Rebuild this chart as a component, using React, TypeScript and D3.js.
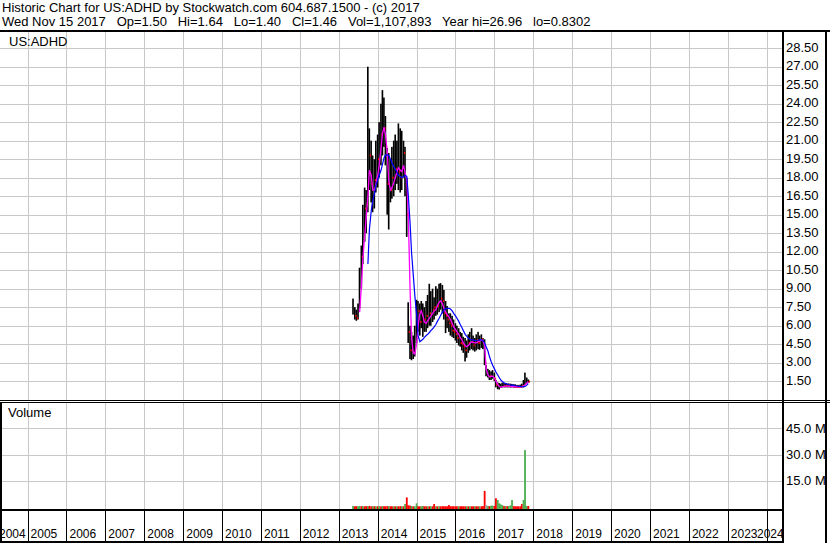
import { useEffect, useRef } from "react";
import * as d3 from "d3";

const headerLines = [
  "Historic Chart for US:ADHD by Stockwatch.com 604.687.1500 - (c) 2017",
  "Wed Nov 15 2017   Op=1.50   Hi=1.64   Lo=1.40   Cl=1.46   Vol=1,107,893   Year hi=26.96   lo=0.8302",
];
const symbol = "US:ADHD";

const dates = [
  "2013-05-15", "2013-06-01", "2013-06-15", "2013-07-01", "2013-07-15", "2013-08-01", "2013-08-15", "2013-09-01",
  "2013-09-15", "2013-10-01", "2013-10-15", "2013-11-01", "2013-11-15", "2013-12-01", "2013-12-15",
  "2014-01-01", "2014-01-15", "2014-02-01", "2014-02-15", "2014-03-01", "2014-03-15", "2014-04-01", "2014-04-15",
  "2014-05-01", "2014-05-15", "2014-06-01", "2014-06-15", "2014-07-01", "2014-07-15", "2014-08-01", "2014-08-15",
  "2014-09-01", "2014-09-15", "2014-10-01", "2014-10-15", "2014-11-01", "2014-11-15", "2014-12-01", "2014-12-15",
  "2015-01-01", "2015-01-15", "2015-02-01", "2015-02-15", "2015-03-01", "2015-03-15", "2015-04-01", "2015-04-15",
  "2015-05-01", "2015-05-15", "2015-06-01", "2015-06-15", "2015-07-01", "2015-07-15", "2015-08-01", "2015-08-15",
  "2015-09-01", "2015-09-15", "2015-10-01", "2015-10-15", "2015-11-01", "2015-11-15", "2015-12-01", "2015-12-15",
  "2016-01-01", "2016-01-15", "2016-02-01", "2016-02-15", "2016-03-01", "2016-03-15", "2016-04-01", "2016-04-15",
  "2016-05-01", "2016-05-15", "2016-06-01", "2016-06-15", "2016-07-01", "2016-07-15", "2016-08-01", "2016-08-15",
  "2016-09-01", "2016-09-15", "2016-10-01", "2016-10-15", "2016-11-01", "2016-11-15", "2016-12-01", "2016-12-15",
  "2017-01-01", "2017-01-15", "2017-02-01", "2017-02-15", "2017-03-01", "2017-03-15", "2017-04-01", "2017-04-15",
  "2017-05-01", "2017-05-15", "2017-06-01", "2017-06-15", "2017-07-01", "2017-07-15", "2017-08-01", "2017-08-15",
  "2017-09-01", "2017-09-15", "2017-10-01", "2017-10-15", "2017-11-01", "2017-11-15",
];

const highs = [
  8.2, 7.5, 7.3, 7.8, 10.7, 12.5, 15.8, 17.2, 17.0, 27.0, 22.0, 21.0, 19.8, 19.5, 21.0,
  21.5, 22.5, 24.0, 25.1, 24.5, 23.0, 20.4, 20.0, 19.5, 20.5, 21.0, 21.5, 21.0, 22.4, 22.0, 21.8,
  21.0, 20.5, 18.0, 7.9, 6.0, 5.5, 5.2, 6.0,
  8.1, 8.0, 7.8, 8.0, 7.8, 7.5, 8.0, 8.5, 9.4, 8.8, 9.0, 8.3, 9.2, 9.0, 9.4, 9.45,
  9.3, 8.9, 8.0, 7.6, 7.0, 7.0, 6.8, 6.5,
  6.2, 6.0, 5.8, 5.5, 5.4, 5.1, 5.0, 4.8, 5.3, 5.5, 5.8, 5.2, 5.0, 5.3, 5.5, 5.2,
  5.3, 5.0, 4.9, 2.8, 2.5, 2.4, 2.3, 2.4,
  2.2, 1.6, 1.4, 1.35, 1.3, 1.38, 1.35, 1.3, 1.3, 1.32, 1.3, 1.28, 1.25, 1.25, 1.2, 1.2,
  1.22, 1.3, 1.6, 2.2, 1.8, 1.64,
];

const lows = [
  6.9, 6.5, 6.4, 6.5, 7.4, 9.0, 11.0, 12.8, 13.5, 15.2, 17.0, 16.0, 15.2, 15.5, 16.8,
  17.2, 18.0, 19.0, 19.8, 20.5, 19.0, 15.0, 13.8, 16.0, 16.3, 16.5, 17.0, 17.5, 17.0, 16.8, 17.0,
  18.0, 16.5, 13.2, 4.6, 3.3, 3.2, 3.3, 3.5,
  4.6, 5.5, 5.2, 5.8, 5.1, 5.5, 5.5, 5.8, 6.0, 6.0, 6.3, 6.5, 6.8, 6.9, 7.1, 7.3,
  7.0, 6.5, 5.4, 5.8, 5.5, 5.2, 5.1, 5.0,
  4.8, 4.6, 4.4, 4.3, 4.0, 3.8, 3.1, 3.4, 3.8, 4.0, 4.1, 4.0, 3.9, 4.0, 4.1, 4.05,
  4.2, 4.1, 2.8, 1.9, 1.8, 1.6, 1.6, 1.7,
  1.5, 1.0, 0.85, 0.83, 0.95, 1.0, 1.0, 1.0, 1.0, 1.0, 0.98, 1.0, 0.98, 0.98, 0.98, 0.97,
  0.98, 0.98, 1.0, 1.2, 1.3, 1.4,
];

const closes = [
  7.2, 6.8, 6.6, 7.4, 9.8, 11.6, 14.5, 15.5, 15.8, 19.5, 19.8, 17.5, 16.5, 17.8, 19.0,
  19.5, 21.0, 21.5, 22.5, 22.0, 20.5, 17.5, 16.5, 17.0, 18.0, 18.5, 18.7, 19.0, 18.5, 18.0, 19.5,
  20.0, 17.5, 15.0, 5.5, 4.0, 3.6, 3.8, 4.8,
  6.5, 7.2, 6.3, 7.5, 6.0, 6.5, 6.8, 7.5, 7.0, 7.8, 7.3, 7.5, 8.0, 7.6, 8.5, 8.2,
  8.0, 7.0, 6.8, 6.5, 6.2, 6.0, 5.6, 5.5,
  5.3, 5.0, 4.8, 4.6, 4.5, 4.3, 4.0, 4.2, 4.6, 4.8, 4.7, 4.4, 4.5, 4.8, 4.6, 4.8,
  4.9, 4.6, 3.0, 2.2, 2.0, 1.9, 1.9, 2.0,
  1.7, 1.2, 1.0, 1.0, 1.1, 1.15, 1.1, 1.1, 1.1, 1.08, 1.05, 1.1, 1.05, 1.05, 1.05, 1.03,
  1.05, 1.1, 1.3, 1.5, 1.5, 1.46,
];

// short moving average (magenta)
const maFast: (number | null)[] = [
  null, null, null, null, 7.1, 9.2, 11.5, 13.3, 14.8, 16.5, 18.6, 18.2, 17.0, 17.0, 17.5,
  18.2, 19.0, 20.4, 21.6, 22.1, 21.5, 20.0, 17.7, 17.0, 17.2, 17.6, 18.0, 18.5, 18.8, 18.6, 18.5,
  19.0, 18.4, 17.8, 15.0, 8.9, 5.0, 3.8, 3.7,
  4.5, 6.0, 7.0, 7.2, 6.8, 6.3, 6.2, 6.4, 6.6, 6.8, 7.0, 7.2, 7.3, 7.6, 7.9, 8.0,
  7.8, 7.4, 7.1, 6.9, 6.7, 6.5, 6.2, 5.9,
  5.7, 5.5, 5.3, 5.05, 4.85, 4.6, 4.4, 4.3, 4.4, 4.55, 4.7, 4.65, 4.6, 4.6, 4.7, 4.75,
  4.85, 4.8, 4.4, 2.5, 2.0, 1.86, 1.9, 1.9,
  1.75, 1.5, 1.25, 1.08, 1.0, 1.05, 1.08, 1.1, 1.1, 1.08, 1.07, 1.07, 1.06, 1.05, 1.05, 1.04,
  1.04, 1.06, 1.12, 1.19, 1.35, 1.46,
];

// long moving average (blue)
const maSlow: (number | null)[] = [
  null, null, null, null, null, null, null, null, null, 11.0, 13.8, 15.3, 16.1, 16.7, 17.4,
  17.8, 18.2, 18.6, 19.1, 19.6, 19.85, 19.85, 19.8, 19.5, 19.2, 18.9, 18.7, 18.4, 18.2, 18.1, 18.0,
  18.1, 18.2, 18.1, 16.6, 14.3, 11.9, 10.1, 8.5,
  6.9, 5.2, 4.7, 4.8, 4.9, 5.05, 5.2, 5.3, 5.45, 5.6, 5.75, 5.9, 6.1, 6.35, 6.6, 6.85,
  7.1, 7.3, 7.38, 7.4, 7.4, 7.35, 7.2, 7.0,
  6.8, 6.6, 6.35, 6.1, 5.85, 5.6, 5.3, 5.15, 5.0, 4.9, 4.85, 4.85, 4.8, 4.8, 4.82, 4.85,
  4.85, 4.8, 4.6, 4.3, 3.95, 3.5, 3.1, 2.8,
  2.5, 2.25, 2.0, 1.8, 1.6, 1.48, 1.38, 1.32, 1.27, 1.23, 1.2, 1.18, 1.16, 1.13, 1.11, 1.09,
  1.08, 1.06, 1.05, 1.08, 1.18, 1.3,
];

// volume in millions
const volumes = [
  0.6, 0.4, 0.5, 0.4, 0.6, 0.5, 0.5, 0.4, 0.5, 0.5, 0.6, 0.4, 0.5, 0.4, 0.4,
  0.4, 0.5, 0.4, 0.5, 0.4, 0.4, 0.5, 0.5, 0.4, 0.4, 0.4, 0.4, 0.4, 0.4, 0.5, 0.4,
  0.4, 1.7, 5.5, 1.0, 0.8, 0.5, 0.4, 0.4,
  2.1, 0.4, 0.4, 0.4, 0.6, 0.4, 0.4, 0.4, 0.4, 0.4, 0.4, 1.7, 0.4, 0.4, 0.4, 0.4,
  0.5, 0.4, 0.4, 0.4, 1.1, 0.4, 0.4, 0.4,
  0.4, 0.4, 0.4, 0.4, 0.4, 0.4, 0.4, 0.4, 0.4, 0.4, 0.4, 0.4, 0.4, 0.4, 0.4, 0.4,
  0.4, 0.5, 9.2, 1.1, 0.6, 0.5, 0.8, 0.8,
  0.6, 5.0, 4.0, 2.1, 1.5, 1.1, 0.6, 0.5, 0.5, 0.6, 1.0, 4.0, 0.5, 0.4, 0.4, 0.4,
  0.4, 1.7, 4.0, 32.6, 0.6, 0.6,
];

// u = up day (green), d = down day (red), n = unchanged (gray)
const moves = [
  "u", "d", "d", "u", "u", "d", "u", "d", "d", "u", "d", "d", "u", "d", "u",
  "d", "u", "d", "u", "d", "d", "d", "u", "d", "d", "u", "d", "u", "d", "d", "u",
  "d", "u", "d", "d", "d", "u", "d", "u",
  "u", "d", "d", "u", "u", "d", "d", "u", "d", "u", "d", "d", "u", "d", "u", "d",
  "d", "d", "d", "d", "d", "d", "d", "d",
  "d", "d", "u", "d", "d", "d", "d", "u", "d", "u", "d", "d", "u", "d", "d", "u",
  "d", "d", "d", "n", "u", "d", "u", "u",
  "d", "d", "u", "u", "u", "u", "d", "u", "d", "u", "u", "u", "d", "d", "d", "d",
  "d", "d", "u", "u", "u", "d",
];

const priceTicks = [1.5, 3, 4.5, 6, 7.5, 9, 10.5, 12, 13.5, 15, 16.5, 18, 19.5, 21, 22.5, 24, 25.5, 27, 28.5];
const volumeTicks = [15, 30, 45];
const years = [
  2004, 2005, 2006, 2007, 2008, 2009, 2010, 2011, 2012, 2013, 2014,
  2015, 2016, 2017, 2018, 2019, 2020, 2021, 2022, 2023, 2024,
];

const W = 830;
const H = 543;
const FONT = "'Liberation Sans', Arial, sans-serif";

// keep runs of spaces in svg text
const keepSpaces = (s: string) => s.replace(/ (?= )/g, "\u00a0");

export default function App() {
  const ref = useRef<SVGSVGElement>(null);

  useEffect(() => {
    if (!ref.current) return;
    const svg = d3.select(ref.current);
    svg.selectAll("*").remove();

    const plotR = 782;
    const priceTop = 32;
    const priceBot = 400;
    const volTop = 403;
    const volBot = 509;

    const parse = d3.utcParse("%Y-%m-%d");
    const t = dates.map((d) => parse(d) as Date);
    const idx = d3.range(dates.length);
    const x = d3
      .scaleUtc()
      .domain([new Date(Date.UTC(2005, 0, 1)), new Date(Date.UTC(2024, 0, 1))])
      .range([27.6, 766.7]);
    const yP = d3.scaleLinear().domain([0, 28.5]).range([399.7, 48.2]);
    const yV = d3.scaleLinear().domain([0, 45]).range([507, 428.4]);
    const step = x(t[1]) - x(t[0]);

    svg.append("rect").attr("width", W).attr("height", H).attr("fill", "#fff");

    // grid
    const grid = svg
      .append("g")
      .attr("stroke", "#c8c8c8")
      .attr("stroke-width", 1)
      .attr("shape-rendering", "crispEdges");
    years.forEach((yr) => {
      const gx = Math.round(x(new Date(Date.UTC(yr, 0, 1)))) + 0.5;
      if (gx < 1 || gx > plotR) return;
      grid.append("line").attr("x1", gx).attr("x2", gx).attr("y1", priceTop).attr("y2", priceBot);
      grid.append("line").attr("x1", gx).attr("x2", gx).attr("y1", volTop).attr("y2", volBot);
    });
    priceTicks.forEach((p) => {
      const gy = Math.round(yP(p)) + 0.5;
      grid.append("line").attr("x1", 0).attr("x2", plotR).attr("y1", gy).attr("y2", gy);
    });
    volumeTicks.forEach((v) => {
      const gy = Math.round(yV(v)) + 0.5;
      grid.append("line").attr("x1", 0).attr("x2", plotR).attr("y1", gy).attr("y2", gy);
    });

    // volume bars
    const volColor: Record<string, string> = { u: "#4caf50", d: "#ff0000", n: "#a0a0a0" };
    svg
      .append("g")
      .selectAll("rect")
      .data(idx)
      .enter()
      .append("rect")
      .attr("x", (i: number) => x(t[i]) - step / 2)
      .attr("width", step)
      .attr("y", (i: number) => yV(volumes[i]))
      .attr("height", (i: number) => volBot - yV(volumes[i]))
      .attr("fill", (i: number) => volColor[moves[i]]);

    // price bars (high-low)
    svg
      .append("g")
      .selectAll("rect")
      .data(idx)
      .enter()
      .append("rect")
      .attr("x", (i: number) => x(t[i]) - step / 2)
      .attr("width", step * 0.9)
      .attr("y", (i: number) => yP(highs[i]))
      .attr("height", (i: number) => Math.max(1, yP(lows[i]) - yP(highs[i])))
      .attr("fill", "#000");

    // red close ticks on down bars
    svg
      .append("g")
      .selectAll("rect")
      .data(idx.filter((i) => moves[i] === "d"))
      .enter()
      .append("rect")
      .attr("x", (i: number) => x(t[i]) + step * 0.2)
      .attr("width", 1.3)
      .attr("y", (i: number) => yP(closes[i]) - 1)
      .attr("height", 2)
      .attr("fill", "#ff0000");

    const lineOf = (vals: (number | null)[]) =>
      d3
        .line<number>()
        .defined((i) => vals[i] !== null)
        .x((i) => x(t[i]))
        .y((i) => yP(vals[i] as number))(idx);

    svg
      .append("path")
      .attr("d", lineOf(maFast))
      .attr("fill", "none")
      .attr("stroke", "#ff00ff")
      .attr("stroke-width", 1.3);
    svg
      .append("path")
      .attr("d", lineOf(maSlow))
      .attr("fill", "none")
      .attr("stroke", "#0000ff")
      .attr("stroke-width", 1.2);

    // frame
    const frame = svg.append("g").attr("stroke", "#000").attr("shape-rendering", "crispEdges");
    frame.append("line").attr("x1", 0).attr("x2", W).attr("y1", 31).attr("y2", 31).attr("stroke-width", 2);
    frame.append("line").attr("x1", 0).attr("x2", W).attr("y1", 400.5).attr("y2", 400.5).attr("stroke-width", 1);
    frame.append("line").attr("x1", 0).attr("x2", W).attr("y1", 402.5).attr("y2", 402.5).attr("stroke-width", 1);
    frame.append("line").attr("x1", 0).attr("x2", plotR).attr("y1", 509.5).attr("y2", 509.5).attr("stroke-width", 2);
    frame.append("line").attr("x1", 0).attr("x2", plotR).attr("y1", 542).attr("y2", 542).attr("stroke-width", 2);
    frame.append("line").attr("x1", plotR + 1).attr("x2", plotR + 1).attr("y1", 31).attr("y2", H).attr("stroke-width", 2);
    frame.append("line").attr("x1", 826).attr("x2", 826).attr("y1", 31).attr("y2", H).attr("stroke-width", 2);
    frame.append("line").attr("x1", 1).attr("x2", 1).attr("y1", 402).attr("y2", H).attr("stroke-width", 2);

    // year axis
    const yearAxis = svg.append("g");
    years.forEach((yr) => {
      const tx = x(new Date(Date.UTC(yr, 0, 1)));
      if (tx > 1 && tx < plotR) {
        yearAxis
          .append("line")
          .attr("x1", Math.round(tx) + 0.5)
          .attr("x2", Math.round(tx) + 0.5)
          .attr("y1", volBot)
          .attr("y2", H)
          .attr("stroke", "#000")
          .attr("shape-rendering", "crispEdges");
      }
      const lx = Math.min(Math.max(tx + 3, -1), plotR - 25);
      yearAxis
        .append("text")
        .attr("x", lx)
        .attr("y", 538)
        .attr("font-family", FONT)
        .attr("font-size", 12)
        .attr("fill", "#000")
        .text(String(yr));
    });

    // right labels
    const labels = svg.append("g").attr("font-family", FONT).attr("font-size", 13).attr("fill", "#000");
    priceTicks.forEach((p) => {
      labels.append("text").attr("x", 786).attr("y", yP(p) + 3.5).text(p.toFixed(2));
    });
    volumeTicks.forEach((v) => {
      labels.append("text").attr("x", 786).attr("y", yV(v) + 4.5).text(`${v.toFixed(1)} M`);
    });

    // titles
    const titles = svg.append("g").attr("font-family", FONT).attr("font-size", 13).attr("fill", "#000");
    headerLines.forEach((line, i) => {
      titles.append("text").attr("x", 2).attr("y", 12 + i * 14).text(keepSpaces(line));
    });
    titles.append("text").attr("x", 9).attr("y", 46).text(symbol);
    titles.append("text").attr("x", 8).attr("y", 417).text("Volume");
  }, []);

  return (
    <svg
      ref={ref}
      width={W}
      height={H}
      style={{ position: "absolute", left: 0, top: 0, display: "block" }}
    />
  );
}
